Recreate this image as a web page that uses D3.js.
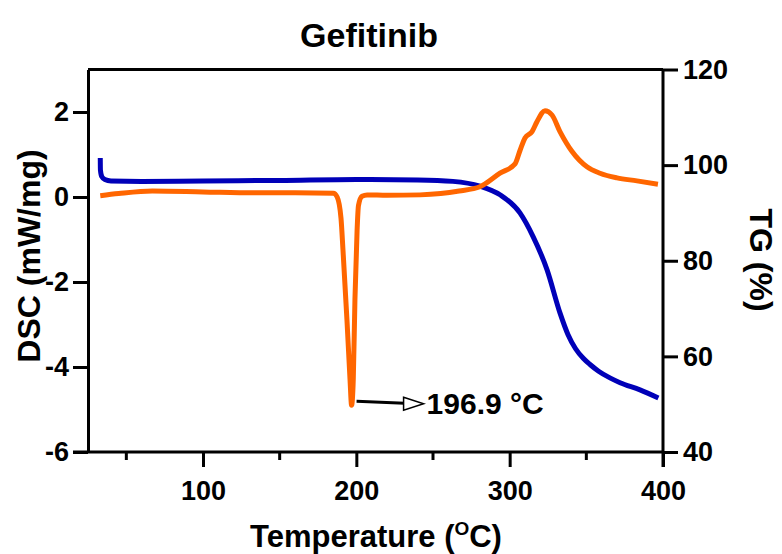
<!DOCTYPE html>
<html>
<head>
<meta charset="utf-8">
<script src="https://cdn.jsdelivr.net/npm/d3@7"></script>
<style>
  html, body { margin: 0; padding: 0; background: #fff; }
  svg text { font-family: "Liberation Sans", Arial, sans-serif; font-weight: bold; fill: #000; }
</style>
</head>
<body>
<svg id="chart" width="782" height="554"></svg>
<script>
// DSC heat flow (mW/mg) against temperature (°C)
const dscTemp = [33, 45, 67, 100, 133, 160, 185, 187.5, 190, 191.3, 193.9, 195.9, 196.9,
  198, 199.1, 200.5, 201.4, 203.7, 207, 220, 241.5, 255, 267, 280.6, 293.7, 303.5,
  306.8, 310, 314.6, 317.8, 323, 327.6, 332.8, 340.7, 350.4, 358.9, 370, 383, 396.7];
const dscValue = [0.03, 0.08, 0.14, 0.12, 0.1, 0.1, 0.09, 0.0, -0.5, -1.25, -2.9, -4.3, -4.9,
  -4.3, -2.4, -0.78, -0.2, 0.02, 0.05, 0.04, 0.05, 0.08, 0.14, 0.24, 0.56, 0.78,
  1.1, 1.39, 1.54, 1.77, 2.03, 1.93, 1.54, 1.07, 0.71, 0.56, 0.45, 0.38, 0.3];

// TG mass remaining (%) against temperature (°C)
const tgTemp = [33, 33.1, 34, 36, 40, 60, 100, 150, 200, 240, 263, 280.6, 293.7, 306.7,
  315.2, 324.4, 332.8, 338, 343, 348, 352.4, 358, 365.4, 372, 385, 397];
const tgValue = [101.5, 99, 97.6, 97, 96.7, 96.6, 96.7, 96.8, 97.0, 96.9, 96.6, 95.6, 93.8, 90,
  85.1, 78.1, 69.1, 64.6, 61.6, 59.6, 58.3, 56.9, 55.5, 54.5, 53, 51.3];

const xTicksMajor = [100, 200, 300, 400];
const xTicksMinor = [50, 150, 250, 350];
const dscTicks = [-6, -4, -2, 0, 2];
const tgTicks = [40, 60, 80, 100, 120];

const peakTemp = 196.9;
const peakValue = -4.9;
const peakLabel = "196.9 °C";

const svg = d3.select("#chart");
const plotLeft = 88, plotRight = 663, plotTop = 69.5, plotBottom = 452;

const x = d3.scaleLinear().domain([25, 400]).range([plotLeft, plotRight]);
const yL = d3.scaleLinear().domain([-6, 3]).range([plotBottom, plotTop]);
const yR = d3.scaleLinear().domain([40, 120]).range([plotBottom, plotTop]);

const axisW = 3;
const plainNum = d => String(d);   // hyphen-minus, as in the printed axis

// frame top line
svg.append("line")
  .attr("x1", plotLeft).attr("x2", plotRight).attr("y1", plotTop).attr("y2", plotTop)
  .attr("stroke", "#000").attr("stroke-width", axisW);

function styleAxis(g) {
  g.select(".domain").attr("stroke", "#000").attr("stroke-width", axisW);
  g.selectAll(".tick line").attr("stroke", "#000").attr("stroke-width", axisW);
  g.selectAll(".tick text").style("font-size", "27px");
}

// bottom axis
const gx = svg.append("g").attr("transform", `translate(0,${plotBottom})`)
  .call(d3.axisBottom(x).tickValues(xTicksMajor).tickFormat(plainNum)
    .tickSize(15).tickSizeOuter(0).tickPadding(14));
styleAxis(gx);
gx.select(".domain").attr("d", `M${plotLeft - 15},0H${plotRight}`);
gx.selectAll(".tick text").attr("dy", "0.71em");
svg.append("g").attr("transform", `translate(0,${plotBottom})`)
  .selectAll("line").data(xTicksMinor).join("line")
  .attr("x1", d => x(d)).attr("x2", d => x(d)).attr("y1", 0).attr("y2", 8)
  .attr("stroke", "#000").attr("stroke-width", axisW);

// left axis (DSC)
const gl = svg.append("g").attr("transform", `translate(${plotLeft},0)`)
  .call(d3.axisLeft(yL).tickValues(dscTicks).tickFormat(plainNum)
    .tickSize(15).tickSizeOuter(0).tickPadding(4));
styleAxis(gl);

// right axis (TG)
const gr = svg.append("g").attr("transform", `translate(${plotRight},0)`)
  .call(d3.axisRight(yR).tickValues(tgTicks).tickFormat(plainNum)
    .tickSize(15).tickSizeOuter(0).tickPadding(5));
styleAxis(gr);
gr.select(".domain").attr("d", `M0,${plotTop}V${plotBottom + 15}`);

// curves
const tgLine = d3.line().x(d => x(d[0])).y(d => yR(d[1])).curve(d3.curveMonotoneX);
const dscLine = d3.line().x(d => x(d[0])).y(d => yL(d[1])).curve(d3.curveMonotoneX);

svg.append("path")
  .datum(d3.zip(tgTemp, tgValue))
  .attr("d", tgLine)
  .attr("fill", "none").attr("stroke", "#0000b8").attr("stroke-width", 5)
  .attr("stroke-linejoin", "round");

svg.append("path")
  .datum(d3.zip(dscTemp, dscValue))
  .attr("d", dscLine)
  .attr("fill", "none").attr("stroke", "#ff6600").attr("stroke-width", 5)
  .attr("stroke-linejoin", "round");

// peak annotation with open arrow
const ax0 = x(peakTemp) + 5, ay0 = yL(peakValue) - 4;
const ax1 = ax0 + 67, ay1 = ay0 + 2.5;
svg.append("line")
  .attr("x1", ax0).attr("y1", ay0).attr("x2", ax1 - 19).attr("y2", ay1 - 0.5)
  .attr("stroke", "#000").attr("stroke-width", 3);
svg.append("path")
  .attr("d", `M${ax1 - 20},${ay1 - 6.5}L${ax1},${ay1}L${ax1 - 20},${ay1 + 6.5}Z`)
  .attr("fill", "#fff").attr("stroke", "#000").attr("stroke-width", 1.5);
svg.append("text")
  .attr("x", ax1 + 3).attr("y", ay1 + 10)
  .style("font-size", "30px")
  .text(peakLabel);

// titles
svg.append("text")
  .attr("x", 369).attr("y", 47).attr("text-anchor", "middle")
  .style("font-size", "34px").text("Gefitinib");

const xt = svg.append("text")
  .attr("x", 376).attr("y", 547).attr("text-anchor", "middle")
  .style("font-size", "31px");
xt.append("tspan").text("Temperature (");
xt.append("tspan").attr("dy", -12).style("font-size", "19px").text("O");
xt.append("tspan").attr("dy", 12).text("C)");

svg.append("text")
  .attr("transform", "translate(40,256) rotate(-90)")
  .attr("text-anchor", "middle")
  .style("font-size", "32px").text("DSC  (mW/mg)");

svg.append("text")
  .attr("transform", "translate(750,260) rotate(90)")
  .attr("text-anchor", "middle")
  .style("font-size", "32px").text("TG  (%)");
</script>
</body>
</html>
